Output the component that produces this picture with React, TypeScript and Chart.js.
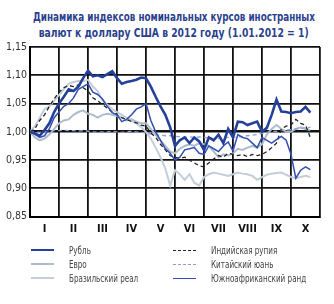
import React, { useEffect, useRef } from "react";
import { Chart, registerables } from "chart.js";

Chart.register(...registerables);

const MONTHS = ["I", "II", "III", "IV", "V", "VI", "VII", "VIII", "IX", "X"];
const STEP = 1 / 6; // months between points (~5 days)
const Y_MIN = 0.85;
const Y_MAX = 1.15;
const Y_STEP = 0.05;

const RUBLE = [
  1.0, 0.997, 0.993, 1.003, 1.015, 1.035, 1.05, 1.062, 1.075, 1.072,
  1.08, 1.095, 1.108, 1.098, 1.1, 1.097, 1.102, 1.107, 1.095, 1.085,
  1.088, 1.09, 1.092, 1.096, 1.095, 1.08, 1.062, 1.045, 1.03, 1.008,
  0.975, 0.985, 0.99, 0.98, 0.99, 0.983, 0.968, 0.99, 0.985, 0.995,
  0.98, 1.005, 0.99, 1.018, 1.017, 1.012, 1.015, 1.018, 1.0, 1.007,
  1.03, 1.057, 1.036, 1.035, 1.033, 1.035, 1.036, 1.044, 1.034,
];
const EURO = [
  1.0, 0.99, 0.985, 0.988, 0.995, 1.005, 1.015, 1.02, 1.022, 1.03,
  1.035, 1.038, 1.032, 1.03, 1.025, 1.03, 1.032, 1.03, 1.028, 1.025,
  1.02, 1.022, 1.018, 1.015, 1.015, 1.005, 0.995, 0.985, 0.975, 0.965,
  0.962, 0.97, 0.975, 0.978, 0.975, 0.98, 0.978, 0.975, 0.965, 0.955,
  0.96, 0.958, 0.962, 0.97, 0.968, 0.972, 0.975, 0.972, 0.978, 0.995,
  1.005, 1.012, 1.005, 1.0, 1.0, 1.005, 1.008, 1.005, 1.003,
];
const REAL = [
  1.0, 1.01, 1.025, 1.04, 1.045, 1.055, 1.065, 1.075, 1.085, 1.088,
  1.09, 1.09, 1.092, 1.08, 1.072, 1.055, 1.048, 1.04, 1.035, 1.03,
  1.025, 1.02, 1.015, 1.008, 1.0, 0.988, 0.972, 0.955, 0.935, 0.905,
  0.932, 0.925, 0.915, 0.925, 0.91, 0.905, 0.92, 0.925, 0.928, 0.926,
  0.924, 0.922, 0.925, 0.928, 0.926, 0.925, 0.922, 0.915, 0.92, 0.924,
  0.926, 0.927, 0.928, 0.924, 0.92, 0.918, 0.92, 0.922, 0.92,
];
const RUPEE = [
  1.0, 1.005, 1.02, 1.03, 1.045, 1.058, 1.07, 1.078, 1.082, 1.08,
  1.083, 1.078, 1.072, 1.06, 1.055, 1.048, 1.042, 1.035, 1.03, 1.025,
  1.022, 1.018, 1.016, 1.012, 1.01, 0.998, 0.99, 0.978, 0.968, 0.958,
  0.955, 0.953, 0.955, 0.95, 0.945, 0.94, 0.938, 0.945, 0.952, 0.958,
  0.955, 0.962, 0.96, 0.958, 0.96, 0.956, 0.96, 0.958, 0.96, 0.965,
  0.972, 0.98, 1.005, 1.01, 1.012, 1.022, 1.015, 1.012, 0.99,
];
const YUAN = [
  1.0, 1.0, 0.999, 1.0, 1.001, 1.002, 1.002, 1.003, 1.002, 1.002,
  1.001, 1.002, 1.001, 1.0, 0.999, 1.0, 1.0, 1.001, 1.0, 0.999,
  1.0, 1.001, 1.0, 0.999, 0.998, 0.996, 0.995, 0.994, 0.993, 0.993,
  0.992, 0.991, 0.99, 0.991, 0.99, 0.991, 0.99, 0.989, 0.988, 0.988,
  0.989, 0.99, 0.99, 0.991, 0.992, 0.993, 0.994, 0.995, 0.997, 0.999,
  1.0, 1.001, 1.002, 1.003, 1.004, 1.005, 1.006, 1.007, 1.008,
];
const RAND = [
  1.0, 0.996, 0.99, 0.993, 1.005, 1.025, 1.035, 1.045, 1.05, 1.06,
  1.075, 1.08, 1.085, 1.07, 1.066, 1.058, 1.045, 1.034, 1.03, 1.018,
  1.022, 1.03, 1.04, 1.044, 1.05, 1.02, 1.0, 0.985, 0.97, 0.962,
  0.95, 0.955, 0.968, 0.97, 0.972, 0.962, 0.96, 0.975, 0.97, 0.965,
  0.975, 0.982, 0.966, 0.995, 0.99, 0.988, 0.98, 0.972, 0.99, 0.985,
  0.98, 0.986, 0.992, 0.985, 0.96, 0.918, 0.932, 0.938, 0.933,
];

const NARROW = "'DejaVu Sans Condensed', 'Liberation Sans Narrow', 'Arial Narrow', sans-serif";

const SERIES = [
  { label: "Рубль", data: RUBLE, color: "#25409a", width: 2.6, dash: [] as number[] },
  { label: "Южноафриканский ранд", data: RAND, color: "#3350b0", width: 1.5, dash: [] as number[] },
  { label: "Индийская рупия", data: RUPEE, color: "#222222", width: 1.3, dash: [4, 3] },
  { label: "Китайский юань", data: YUAN, color: "#8e9ee0", width: 1.3, dash: [4, 3] },
  { label: "Евро", data: EURO, color: "#aebccb", width: 2, dash: [] as number[] },
  { label: "Бразильский реал", data: REAL, color: "#c3ced8", width: 2, dash: [] as number[] },
];

const TITLE_LINES = [
  "Динамика индексов номинальных курсов иностранных",
  "валют к доллару США в 2012 году (1.01.2012 = 1)",
];
const TITLE_WIDTHS = [282, 270];

const LEGEND_COLS = [
  ["Рубль", "Евро", "Бразильский реал"],
  ["Индийская рупия", "Китайский юань", "Южноафриканский ранд"],
];

function Swatch({ name }: { name: string }) {
  const s = SERIES.find((d) => d.label === name)!;
  const style: React.CSSProperties = {
    width: 23,
    height: 0,
    flex: "none",
    borderTop: `${Math.max(1.5, s.width)}px ${s.dash.length ? "dashed" : "solid"} ${s.color}`,
  };
  return <div style={style} />;
}

export default function App() {
  const ref = useRef<HTMLCanvasElement>(null);
  const titleRefs = useRef<(HTMLSpanElement | null)[]>([]);

  useEffect(() => {
    titleRefs.current.forEach((el, i) => {
      if (!el) return;
      const w = el.getBoundingClientRect().width;
      if (w > 0) el.style.transform = `scaleX(${TITLE_WIDTHS[i] / w})`;
    });

    const toPts = (arr: number[]) => arr.map((v, i) => ({ x: i * STEP, y: v }));
    const chart = new Chart(ref.current!, {
      type: "line",
      data: {
        labels: MONTHS,
        datasets: SERIES.map((s) => ({
          label: s.label,
          data: toPts(s.data),
          xAxisID: "xd",
          yAxisID: "y",
          borderColor: s.color,
          backgroundColor: s.color,
          borderWidth: s.width,
          borderDash: s.dash,
          pointRadius: 0,
          tension: 0,
          fill: false,
        })),
      },
      options: {
        animation: false,
        responsive: false,
        maintainAspectRatio: false,
        layout: { padding: { top: 47, right: 14, left: 0, bottom: 0 } },
        plugins: {
          legend: { display: false },
          title: { display: false },
          tooltip: { enabled: false },
        },
        scales: {
          x: {
            type: "category",
            offset: true,
            grid: { offset: true, color: "#111", lineWidth: 1.8, drawTicks: false },
            border: { color: "#000", width: 2 },
            ticks: { color: "#111", font: { family: NARROW, size: 11, weight: "bold" }, padding: 6 },
            afterFit: (s: any) => {
              s.height = 304 - 216.6;
            },
          },
          xd: { type: "linear", min: 0, max: 10, display: false },
          y: {
            min: Y_MIN,
            max: Y_MAX,
            ticks: {
              stepSize: Y_STEP,
              color: "#333",
              font: { family: NARROW, size: 10.5 },
              padding: 3,
              callback: (v: any) => Number(v).toFixed(2).replace(".", ","),
            },
            grid: {
              color: "#111",
              drawTicks: false,
              lineWidth: (ctx: any) => (ctx.tick && Math.abs(ctx.tick.value - 1) < 1e-6 ? 2.6 : 1.8),
            },
            border: { color: "#000", width: 2 },
            afterFit: (s: any) => {
              s.width = 30;
            },
          },
        },
      },
    } as any);
    return () => chart.destroy();
  }, []);

  return (
    <div style={{ position: "absolute", left: 0, top: 0, width: 334, height: 304, background: "#fff", overflow: "hidden" }}>
      <div
        style={{
          position: "absolute",
          left: 0,
          width: 348,
          top: 9,
          textAlign: "center",
          fontFamily: NARROW,
          fontWeight: "bold",
          fontSize: 11.5,
          lineHeight: "16px",
          color: "#2b3f8e",
          whiteSpace: "nowrap",
        }}
      >
        {TITLE_LINES.map((t, i) => (
          <div key={i}>
            <span
              ref={(el) => {
                titleRefs.current[i] = el;
              }}
              style={{ display: "inline-block", transformOrigin: "center" }}
            >
              {t}
            </span>
          </div>
        ))}
      </div>
      <canvas ref={ref} width={334} height={304} style={{ position: "absolute", left: 0, top: 0 }} />
      {LEGEND_COLS.map((col, ci) => (
        <div key={ci} style={{ position: "absolute", left: ci === 0 ? 31 : 173, top: 243 }}>
          {col.map((name) => (
            <div key={name} style={{ display: "flex", alignItems: "center", height: 14 }}>
              <Swatch name={name} />
              <span
                style={{
                  marginLeft: 15,
                  fontFamily: NARROW,
                  fontSize: 10,
                  color: "#444",
                  whiteSpace: "nowrap",
                  display: "inline-block",
                  transform: "scaleX(0.8)",
                  transformOrigin: "left center",
                }}
              >
                {name}
              </span>
            </div>
          ))}
        </div>
      ))}
    </div>
  );
}
